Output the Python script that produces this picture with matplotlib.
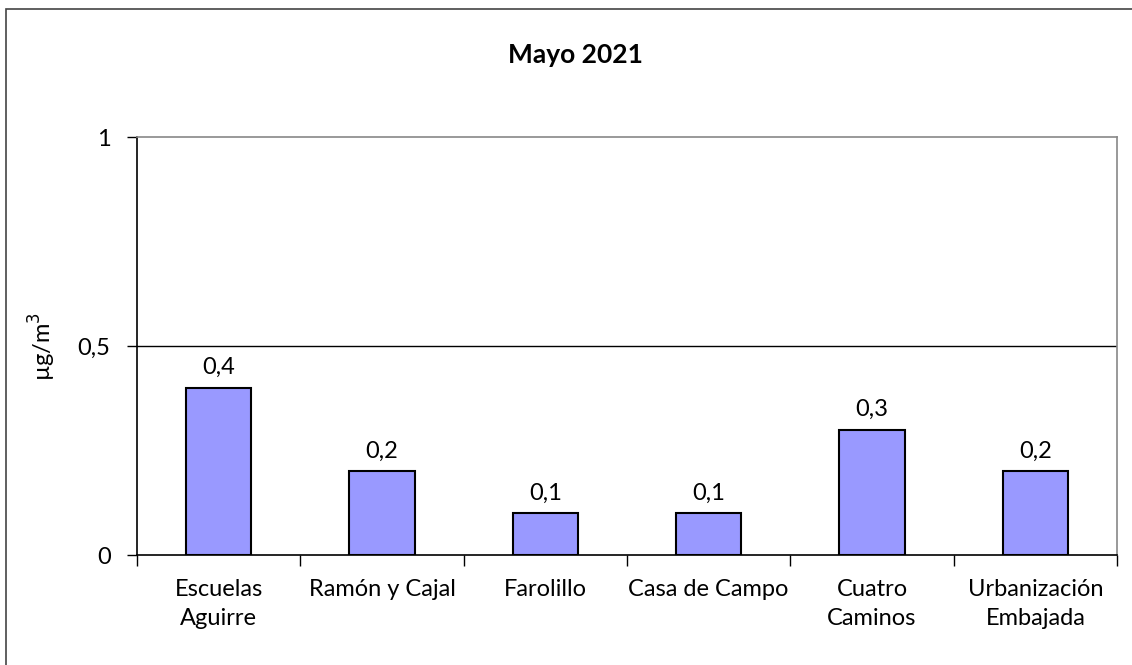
import matplotlib.pyplot as plt
from matplotlib.patches import Rectangle

plt.rcParams['font.family'] = ['Lato', 'DejaVu Sans']

estaciones = ['Escuelas\nAguirre', 'Ramón y Cajal', 'Farolillo',
              'Casa de Campo', 'Cuatro\nCaminos', 'Urbanización\nEmbajada']
valores = [0.4, 0.2, 0.1, 0.1, 0.3, 0.2]
etiquetas = ['0,4', '0,2', '0,1', '0,1', '0,3', '0,2']
yticks = [0, 0.5, 1]
ytick_labels = ['0', '0,5', '1']

W, H = 1132, 665
fig = plt.figure(figsize=(W / 100, H / 100), dpi=100)
ax = fig.add_axes([137 / W, 1 - 555 / H, (1117 - 137) / W, (555 - 137) / H])

# outer frame of the chart
fig.patches.append(Rectangle((6 / W, -0.1), 1.2, 1 - 9 / H + 0.1,
                             transform=fig.transFigure, fill=False,
                             edgecolor='#444444', linewidth=1.2))

x = list(range(len(estaciones)))
ax.bar(x, valores, width=0.4, color='#9999FF', edgecolor='black', linewidth=1.5, zorder=3)
for xi, v, t in zip(x, valores, etiquetas):
    ax.text(xi, v + 0.023, t, ha='center', va='bottom', fontsize=17)

ax.set_xlim(-0.5, len(estaciones) - 0.5)
ax.set_ylim(0, 1)
ax.set_yticks(yticks)
ax.set_yticklabels(ytick_labels, fontsize=17)
ax.set_xticks([i - 0.5 for i in range(len(estaciones) + 1)], minor=False)
ax.set_xticklabels([])
ax.set_xticks(x, minor=True)
ax.set_xticklabels(estaciones, minor=True, fontsize=17, linespacing=1.5)
ax.tick_params(axis='x', which='minor', length=0, pad=17)
ax.tick_params(axis='x', which='major', length=8, direction='out', width=1, color='black')
ax.tick_params(axis='y', length=7, width=1, pad=12, color='black')

ax.axhline(0.5, color='black', linewidth=1, zorder=1)

ax.spines['left'].set_color('black')
ax.spines['bottom'].set_color('black')
ax.spines['top'].set_color('#888888')
ax.spines['right'].set_color('#888888')
for s in ax.spines.values():
    s.set_linewidth(1.2)

ax.set_ylabel('µg/m$^3$', fontsize=17, labelpad=14)
fig.text(575 / W, 1 - 55 / H, 'Mayo 2021', ha='center', va='center',
         fontsize=19, fontweight='bold')

fig.savefig('out.png', dpi=100)
